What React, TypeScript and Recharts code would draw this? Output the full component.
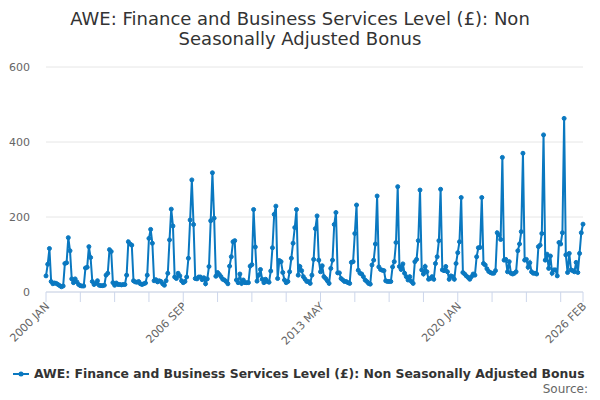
import React from 'react';
import { LineChart, Line, XAxis, YAxis, CartesianGrid } from 'recharts';

const monthNames = ['JAN', 'FEB', 'MAR', 'APR', 'MAY', 'JUN', 'JUL', 'AUG', 'SEP', 'OCT', 'NOV', 'DEC'];
const startYear = 2000;

const v2000 = [43, 74, 116, 28, 22, 24, 23, 20, 17, 14, 16, 76];
const v2001 = [78, 145, 110, 35, 25, 35, 27, 20, 17, 16, 16, 64];
const v2002 = [66, 121, 92, 28, 20, 23, 30, 18, 17, 17, 18, 45];
const v2003 = [50, 113, 108, 25, 18, 24, 20, 20, 19, 20, 20, 45];
const v2004 = [134, 128, 125, 30, 27, 26, 28, 22, 20, 22, 24, 45];
const v2005 = [143, 167, 130, 30, 33, 27, 30, 28, 22, 18, 30, 50];
const v2006 = [139, 221, 176, 40, 36, 50, 43, 30, 25, 28, 40, 90];
const v2007 = [192, 299, 180, 36, 35, 40, 40, 33, 38, 22, 35, 68];
const v2008 = [190, 318, 197, 42, 52, 47, 41, 34, 32, 28, 22, 69];
const v2009 = [94, 134, 137, 32, 25, 48, 23, 32, 25, 25, 25, 69];
const v2010 = [73, 220, 120, 29, 45, 60, 34, 25, 34, 28, 26, 56];
const v2011 = [118, 207, 229, 36, 84, 81, 52, 32, 25, 28, 54, 90];
const v2012 = [130, 172, 220, 45, 68, 57, 41, 34, 28, 28, 23, 45];
const v2013 = [87, 169, 203, 85, 54, 70, 41, 36, 30, 23, 63, 85];
const v2014 = [180, 212, 51, 51, 36, 32, 28, 28, 25, 23, 79, 81];
const v2015 = [156, 232, 58, 50, 48, 41, 32, 28, 23, 21, 72, 85];
const v2016 = [128, 256, 67, 60, 58, 57, 30, 28, 28, 28, 67, 81];
const v2017 = [132, 281, 68, 60, 75, 50, 41, 32, 41, 28, 23, 81];
const v2018 = [87, 137, 272, 59, 48, 68, 54, 34, 36, 41, 34, 76];
const v2019 = [94, 137, 274, 59, 57, 68, 54, 34, 43, 41, 34, 76];
const v2020 = [105, 134, 252, 52, 48, 43, 39, 34, 41, 48, 45, 94];
const v2021 = [118, 119, 252, 76, 72, 62, 55, 52, 50, 50, 57, 158];
const v2022 = [152, 140, 359, 85, 87, 54, 81, 50, 48, 50, 54, 110];
const v2023 = [128, 161, 370, 85, 87, 66, 78, 54, 50, 50, 48, 121];
const v2024 = [125, 156, 419, 85, 101, 63, 96, 50, 59, 59, 43, 132];
const v2025 = [128, 158, 463, 99, 52, 103, 59, 57, 54, 79, 52, 103];
const v2026 = [158, 181];

const yearly = [
  v2000, v2001, v2002, v2003, v2004, v2005, v2006, v2007, v2008, v2009,
  v2010, v2011, v2012, v2013, v2014, v2015, v2016, v2017, v2018, v2019,
  v2020, v2021, v2022, v2023, v2024, v2025, v2026,
];

const xTicks = [0, 20, 40, 60, 80, 100, 120, 140, 160, 180, 200, 220, 240, 260, 280, 300, 313];
const xLabelTicks = [0, 80, 160, 240, 313];
const yTicks = [0, 200, 400, 600];

const TITLE_LINE_1 = 'AWE: Finance and Business Services Level (£): Non';
const TITLE_LINE_2 = 'Seasonally Adjusted Bonus';
const SERIES_NAME = 'AWE: Finance and Business Services Level (£): Non Seasonally Adjusted Bonus';
const SOURCE = 'Source:';

const COLOR = '#0a78c0';
const FONT = '"DejaVu Sans", Verdana, sans-serif';

const data: { idx: number; label: string; value: number }[] = [];
yearly.forEach((arr, yi) => {
  arr.forEach((v, mi) => {
    data.push({
      idx: data.length,
      label: `${startYear + yi} ${monthNames[mi]}`,
      value: v,
    });
  });
});

const labelFor = (i: number) => (data[i] ? data[i].label : '');

const XTick = (props: any) => {
  const { x, y, payload } = props;
  if (!xLabelTicks.includes(payload.value)) return null;
  const ax = x + 4;
  const ay = y + 3;
  return (
    <text
      x={ax}
      y={ay}
      textAnchor="end"
      transform={`rotate(-45 ${ax} ${ay})`}
      fontSize={11}
      fill="#666666"
      fontFamily={FONT}
    >
      {labelFor(payload.value)}
    </text>
  );
};

const YTick = (props: any) => {
  const { y, payload } = props;
  return (
    <text x={30} y={y + 4} textAnchor="end" fontSize={11} fill="#666666" fontFamily={FONT}>
      {payload.value}
    </text>
  );
};

export default function App() {
  return (
    <div style={{ position: 'absolute', left: 0, top: 0, width: 600, height: 400, background: '#fff', fontFamily: FONT }}>
      <LineChart
        width={600}
        height={400}
        data={data}
        margin={{ top: 67, right: 17, left: 0, bottom: 0 }}
      >
        <CartesianGrid vertical={false} stroke="#e6e6e6" />
        <XAxis
          dataKey="idx"
          type="number"
          domain={[0, 313]}
          ticks={xTicks}
          interval={0}
          height={108}
          tickSize={10}
          tickMargin={2}
          stroke="#ccd6eb"
          tickLine={{ stroke: '#ccd6eb' }}
          axisLine={{ stroke: '#ccd6eb' }}
          tick={<XTick />}
        />
        <YAxis
          domain={[0, 600]}
          ticks={yTicks}
          width={46}
          axisLine={false}
          tickLine={false}
          tick={<YTick />}
        />
        <Line
          type="linear"
          dataKey="value"
          stroke={COLOR}
          strokeWidth={2}
          dot={{ r: 2, fill: COLOR, stroke: COLOR, strokeWidth: 1 }}
          isAnimationActive={false}
        />
      </LineChart>
      <svg width={600} height={400} style={{ position: 'absolute', left: 0, top: 0, pointerEvents: 'none' }}>
        <text x={300} y={25} textAnchor="middle" fontSize={18} fill="#333333" fontFamily={FONT}>
          {TITLE_LINE_1}
        </text>
        <text x={300} y={45} textAnchor="middle" fontSize={18} fill="#333333" fontFamily={FONT}>
          {TITLE_LINE_2}
        </text>
        <line x1={13} y1={374} x2={29} y2={374} stroke={COLOR} strokeWidth={2} />
        <circle cx={21} cy={374} r={2.5} fill={COLOR} />
        <text x={34} y={378} fontSize={12.4} fontWeight="bold" fill="#333333" fontFamily={FONT}>
          {SERIES_NAME}
        </text>
        <text x={588} y={393} textAnchor="end" fontSize={12} fill="#666666" fontFamily={FONT}>
          {SOURCE}
        </text>
      </svg>
    </div>
  );
}
